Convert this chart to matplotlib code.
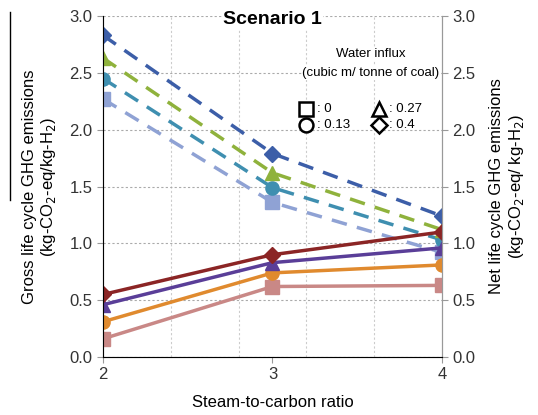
import matplotlib.pyplot as plt
from matplotlib.lines import Line2D

plt.rcParams['font.family'] = ['Liberation Sans', 'DejaVu Sans']

# steam-to-carbon ratio
ratio = [2, 3, 4]
influx_labels = [': 0', ': 0.13', ': 0.27', ': 0.4']
markers = ['s', 'o', '^', 'D']

# net emissions (dashed)
net_0 = [2.27, 1.36, 0.92]
net_013 = [2.45, 1.49, 1.03]
net_027 = [2.63, 1.62, 1.12]
net_04 = [2.83, 1.79, 1.24]
net_colors = ['#8fa2d4', '#3f8fb0', '#8fb23c', '#3c5ea8']

# gross emissions (solid)
gross_0 = [0.16, 0.62, 0.63]
gross_013 = [0.31, 0.74, 0.81]
gross_027 = [0.46, 0.83, 0.96]
gross_04 = [0.55, 0.90, 1.10]
gross_colors = ['#c98886', '#e08a2e', '#5a3e98', '#8b2525']

fig = plt.figure(figsize=(5.38, 4.15), dpi=100)
ax = fig.add_axes([0.1915, 0.1398, 0.63, 0.8216])

net = [net_0, net_013, net_027, net_04]
gross = [gross_0, gross_013, gross_027, gross_04]

for vals, c, m in zip(net, net_colors, markers):
    ax.plot(ratio, vals, color=c, lw=2.5, ls=(0, (4.5, 3)), marker=m,
            ms=9.5 if m != 'D' else 8, mec=c, mfc=c, zorder=3)
for vals, c, m in zip(gross, gross_colors, markers):
    ax.plot(ratio, vals, color=c, lw=2.5, marker=m,
            ms=9.5 if m != 'D' else 8, mec=c, mfc=c, zorder=4)

ax.set_xlim(2, 4)
ax.set_ylim(0, 3)
ax.set_xticks([2, 3, 4])
ax.set_yticks([0, 0.5, 1, 1.5, 2, 2.5, 3])
ax.set_yticklabels(['0.0', '0.5', '1.0', '1.5', '2.0', '2.5', '3.0'])
ax.tick_params(labelsize=12, colors='#333333', length=4, color='#999999')
ax.grid(axis='y', ls=(0, (2, 2)), color='#aaaaaa', lw=0.8)
for gx in [2.4, 2.8, 3.2, 3.6]:
    ax.axvline(gx, ls=(0, (2, 2)), color='#cccccc', lw=0.8, zorder=0)
ax.spines['top'].set_visible(False)
for s in ['left', 'right', 'bottom']:
    ax.spines[s].set_color('#999999')

ax2 = ax.twinx()
ax2.set_ylim(0, 3)
ax2.set_yticks([0, 0.5, 1, 1.5, 2, 2.5, 3])
ax2.set_yticklabels(['0.0', '0.5', '1.0', '1.5', '2.0', '2.5', '3.0'])
ax2.tick_params(labelsize=12, colors='#333333', length=4, color='#999999')
ax2.spines['top'].set_visible(False)
ax2.spines['right'].set_color('#999999')

ax.set_xlabel('Steam-to-carbon ratio', fontsize=12, labelpad=9)
ax.set_ylabel('Gross life cycle GHG emissions\n(kg-CO$_2$-eq/kg-H$_2$)', fontsize=12, labelpad=8)
ax2.set_ylabel('Net life cycle GHG emissions\n(kg-CO$_2$-eq/ kg-H$_2$)', fontsize=12, labelpad=10)

ax.text(3, 2.97, 'Scenario 1', ha='center', va='center', fontsize=14, fontweight='bold',
        bbox=dict(fc='white', ec='none', pad=1), zorder=5)
ax.text(3.58, 2.67, 'Water influx', ha='center', va='center', fontsize=9.5,
        bbox=dict(fc='white', ec='none', pad=0.5), zorder=5)
ax.text(3.58, 2.5, '(cubic m/ tonne of coal)', ha='center', va='center', fontsize=9.5,
        bbox=dict(fc='white', ec='none', pad=0.5), zorder=5)

# legend symbols
leg_pos = [(3.2, 2.18), (3.2, 2.04), (3.63, 2.18), (3.63, 2.04)]
for (lx, ly), m, lab in zip(leg_pos, markers, influx_labels):
    ax.plot([lx], [ly], marker=m, ms=10 if m != 'D' else 8.5, mfc='white',
            mec='black', mew=1.8, zorder=5)
    ax.text(lx + 0.06, ly, lab, va='center', ha='left', fontsize=9.5)

fig.add_artist(Line2D([10 / 538, 10 / 538], [1 - 12 / 415, 1 - 200 / 415],
                      color='black', lw=1))

fig.savefig('out.png', dpi=100)
